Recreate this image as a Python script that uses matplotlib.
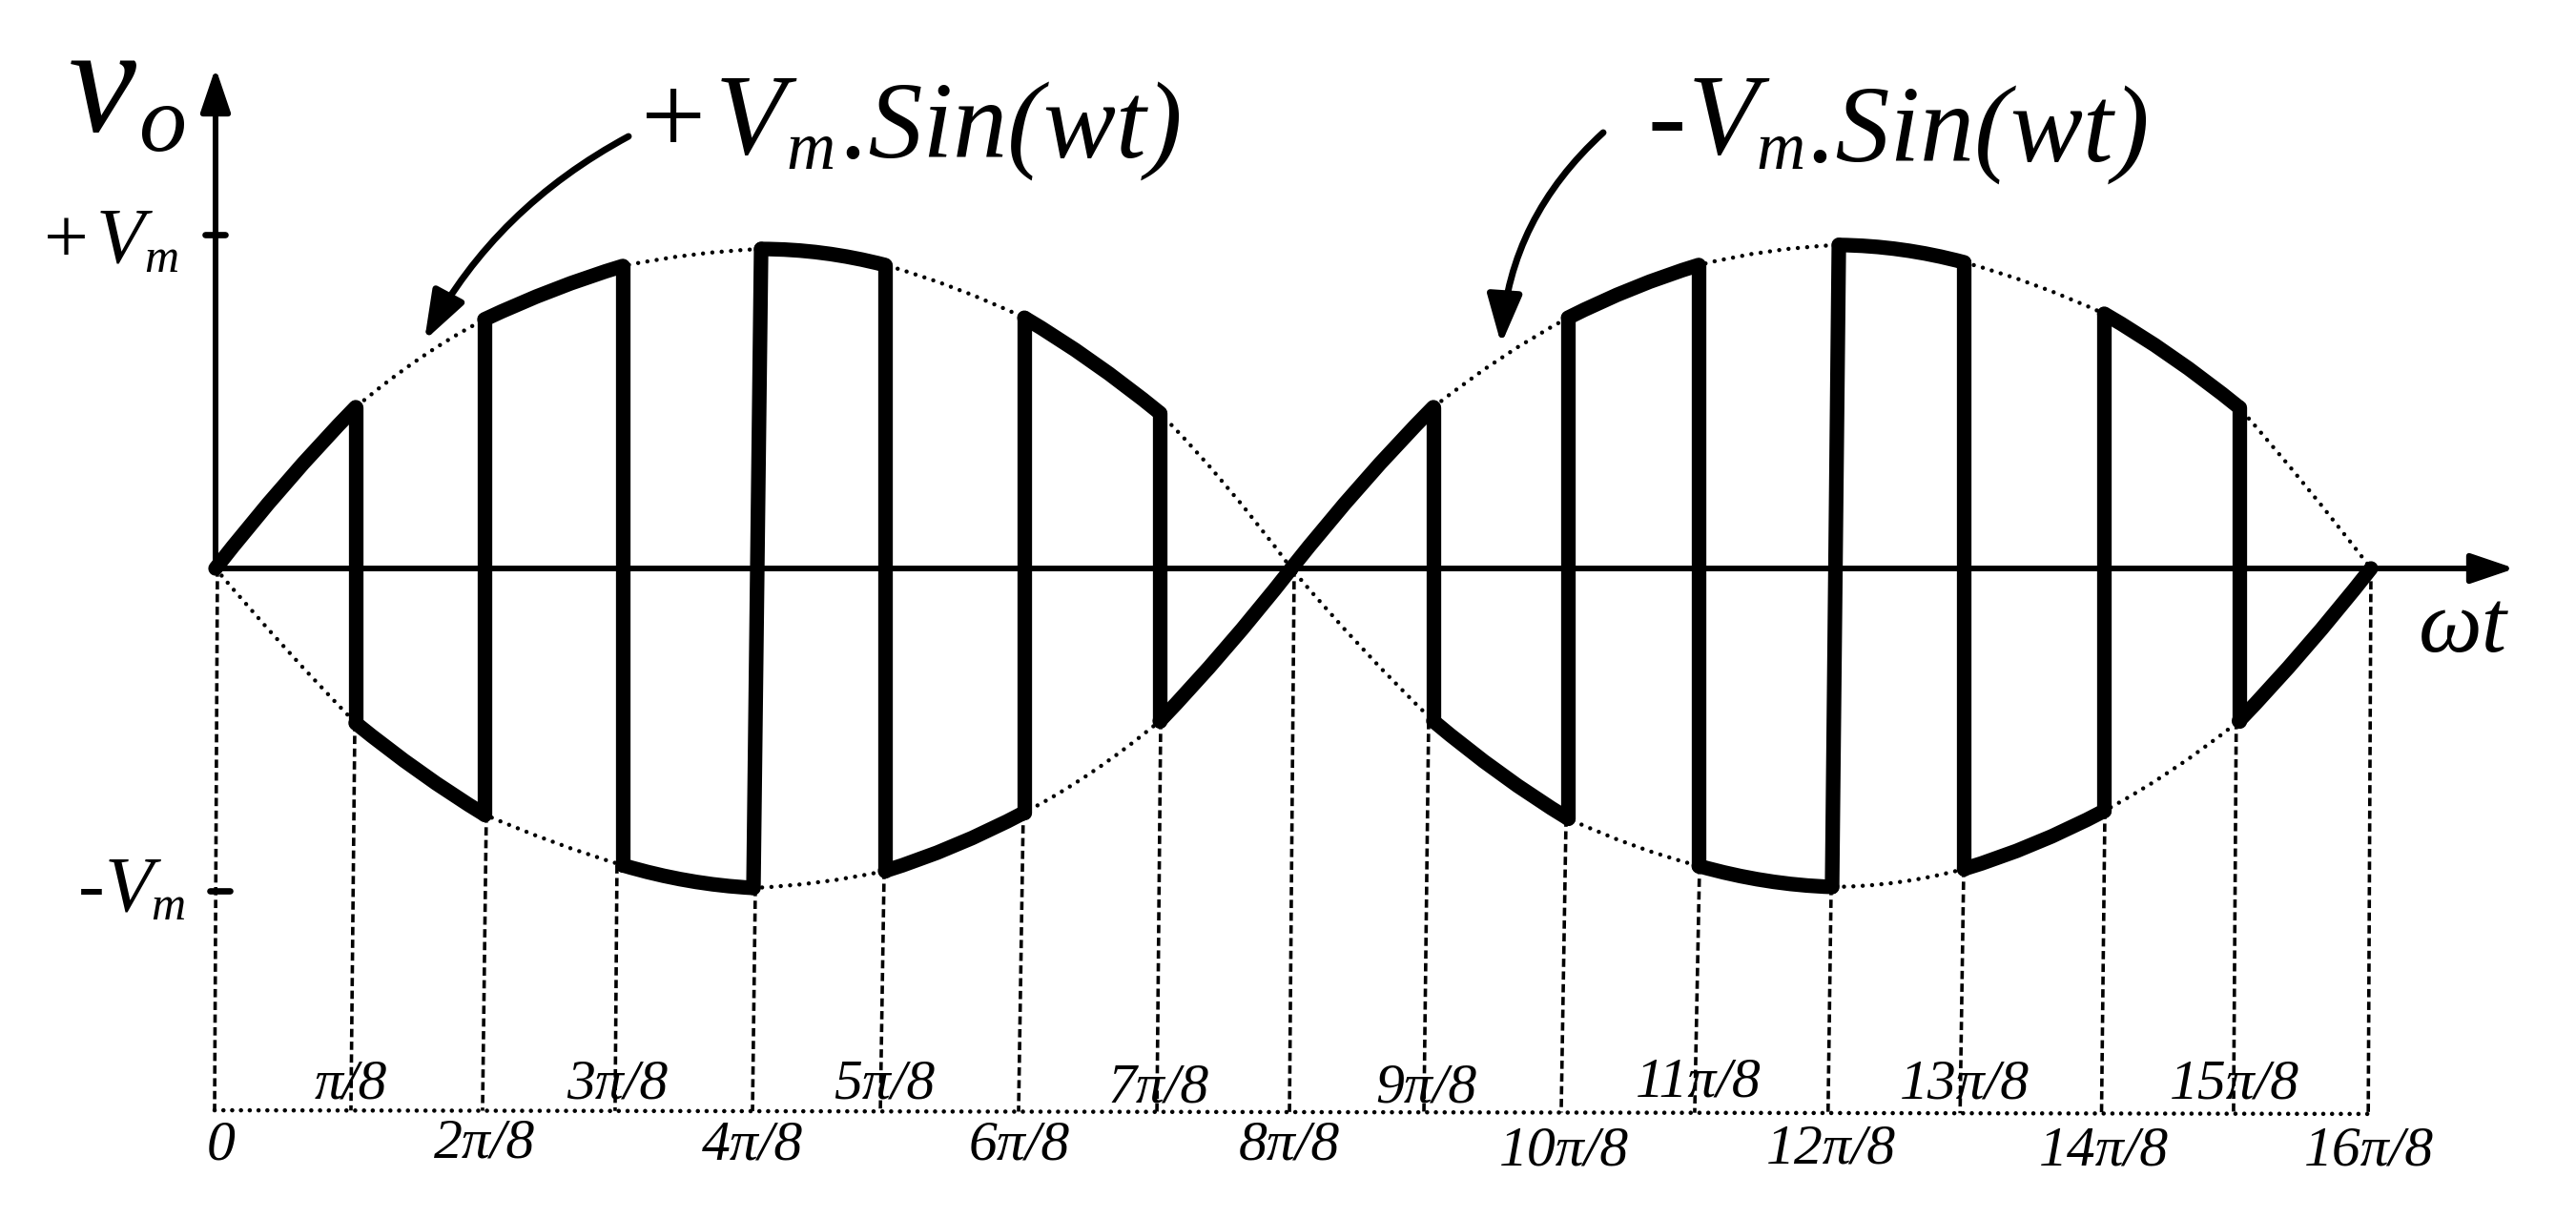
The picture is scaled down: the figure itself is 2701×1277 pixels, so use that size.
import matplotlib
matplotlib.use("Agg")
import matplotlib.pyplot as plt
from matplotlib.path import Path
from matplotlib.patches import PathPatch, FancyArrowPatch

W, H = 2701, 1277
SERIF = "Liberation Serif"

# x is in units of pi/8, y in units of Vm
upper_x = [0.0, 1.04, 1.996, 3.023, 4.05, 4.97, 6.004, 7.009, 7.986, 9.04, 10.04, 11.01, 12.05, 12.98, 14.02, 15.02, 16.0]
lower_x = [0.0, 1.04, 1.996, 3.023, 3.993, 4.97, 6.004, 7.009, 7.986, 9.04, 10.04, 11.01, 12.0, 12.98, 14.02, 15.02, 16.0]
upper_y = [0.0, 0.483, 0.746, 0.906, 0.957, 0.909, 0.751, 0.466, 0.0, 0.483, 0.751, 0.909, 0.969, 0.917, 0.763, 0.483, 0.0]
lower_y = [0.0, -0.463, -0.737, -0.889, -0.957, -0.906, -0.731, -0.457, 0.0, -0.457, -0.749, -0.891, -0.954, -0.9, -0.726, -0.457, 0.0]
upper_mid = [0.255, 0.63, 0.835, 0.94, 0.945, 0.84, 0.62, 0.25, 0.255, 0.63, 0.84, 0.95, 0.955, 0.85, 0.635, 0.25]
lower_mid = [-0.24, -0.61, -0.82, -0.935, -0.94, -0.83, -0.61, -0.24, -0.24, -0.615, -0.83, -0.935, -0.94, -0.825, -0.605, -0.24]
guide_top_x = [0.014, 1.034, 2.01, 2.98, 4.007, 4.963, 5.996, 7.016, 8.007, 9.005, 10.025, 11.016, 11.993, 12.977, 14.025, 15.0, 16.0]
guide_bottom_x = [-0.007, 1.005, 1.982, 2.966, 3.986, 4.935, 5.961, 6.988, 7.972, 8.97, 9.989, 10.98, 11.97, 12.95, 14.0, 14.98, 15.98]
baseline_x = [-0.007, 15.98]
baseline_y = [-1.623, -1.634]
y_tick_values = [1.0, -0.966]

lower_row_labels = ["0", "2π/8", "4π/8", "6π/8", "8π/8", "10π/8", "12π/8", "14π/8", "16π/8"]
upper_row_labels = ["π/8", "3π/8", "5π/8", "7π/8", "9π/8", "11π/8", "13π/8", "15π/8"]
lower_row_cx = [232, 508, 789, 1069, 1352, 1640, 1920, 2206, 2484]
lower_row_base = [1215, 1213, 1215, 1216, 1215, 1222, 1220, 1222, 1222]
upper_row_cx = [368, 647, 927, 1215, 1495, 1781, 2060, 2343]
upper_row_base = [1152, 1151, 1152, 1156, 1155, 1149, 1151, 1151]

fig = plt.figure(figsize=(W / 100, H / 100), dpi=100, facecolor="white")
ax = fig.add_axes([0, 0, 1, 1])
ax.set_xlim(-226 / 141.25, (W - 226) / 141.25)
ax.set_ylim(-(H - 596) / 350, 596 / 350)
ax.axis("off")


def arc(xs, ys, mids, i):
    """Quadratic piece through breakpoints i, i+1 and the value read between them."""
    x0, x1 = xs[i], xs[i + 1]
    y0, y1 = ys[i], ys[i + 1]
    return (x0, y0), ((x0 + x1) / 2, 2 * mids[i] - (y0 + y1) / 2), (x1, y1)


def draw_arcs(xs, ys, mids, idx, **kw):
    verts, codes = [], []
    for i in idx:
        a, c, b = arc(xs, ys, mids, i)
        verts += [a, c, b]
        codes += [Path.MOVETO, Path.CURVE3, Path.CURVE3]
    ax.add_patch(PathPatch(Path(verts, codes), fill=False, edgecolor="black", **kw))


n = len(upper_x)
DOT = dict(lw=3.2, linestyle=(0, (0.01, 2.2)), capstyle="round")
THICK = dict(lw=11, capstyle="round", joinstyle="round")
# dotted envelopes: whole-curve paths so that the dots run continuously
for xs, ys, mids in ((upper_x, upper_y, upper_mid), (lower_x, lower_y, lower_mid)):
    verts = [(xs[0], ys[0])]
    codes = [Path.MOVETO]
    for i in range(n - 1):
        a, c, b = arc(xs, ys, mids, i)
        verts += [c, b]
        codes += [Path.CURVE3, Path.CURVE3]
    ax.add_patch(PathPatch(Path(verts, codes), fill=False, edgecolor="black", **DOT))

# dashed guides down to the baseline
for i in range(n):
    ax.plot([guide_top_x[i], guide_bottom_x[i]],
            [lower_y[i], baseline_y[0] + (baseline_y[1] - baseline_y[0]) * i / (n - 1)],
            color="black", lw=2.6, linestyle=(0, (2.4, 1.3)), dash_capstyle="butt")
ax.plot(baseline_x, baseline_y, color="black", lw=3.3, linestyle=(0, (0.01, 2.0)), dash_capstyle="round")

# switching waveform
draw_arcs(upper_x, upper_y, upper_mid, range(0, n - 1, 2), **THICK)
draw_arcs(lower_x, lower_y, lower_mid, range(1, n - 1, 2), **THICK)
for i in range(1, n - 1):
    if i != 8:
        ax.plot([upper_x[i], lower_x[i]], [upper_y[i], lower_y[i]], color="black", lw=11,
                solid_capstyle="round")

# axes with arrow heads
HEAD = "-|>,head_length=28,head_width=9.5"
ax.add_patch(FancyArrowPatch((0, 0), (0, 525 / 350), arrowstyle=HEAD, mutation_scale=1, lw=4.3,
                             color="black", shrinkA=0, shrinkB=0, zorder=5))
ax.add_patch(FancyArrowPatch((0, 0), (2411 / 141.25, 0), arrowstyle=HEAD, mutation_scale=1, lw=4.3,
                             color="black", shrinkA=0, shrinkB=0, zorder=5))
ax.plot([-11 / 141.25, 10 / 141.25], [y_tick_values[0]] * 2, color="black", lw=4.8, solid_capstyle="round")
ax.plot([-6 / 141.25, 15 / 141.25], [y_tick_values[1]] * 2, color="black", lw=4.8, solid_capstyle="round")

# curved callout arrows (display coordinates: y measured from the bottom)
CALL = "-|>,head_length=31,head_width=11"
for (x0, y0), (x1, y1), rad in (((659, 143), (445, 357), 0.15), ((1681, 139), (1574, 361), 0.2)):
    fig.add_artist(FancyArrowPatch((x0 / W, 1 - y0 / H), (x1 / W, 1 - y1 / H), transform=fig.transFigure,
                                   connectionstyle=f"arc3,rad={rad}", arrowstyle=CALL, mutation_scale=1,
                                   lw=5, color="black", shrinkA=0, shrinkB=0))


def label(px, py, s, size, ha="left"):
    fig.text(px / W, 1 - py / H, s, fontsize=size, ha=ha, va="baseline",
             family=SERIF, style="italic", color="black")


def label_upright(px, py, s, size):
    fig.text(px / W, 1 - py / H, s, fontsize=size, ha="left", va="baseline", family=SERIF, color="black")


# big annotations
label_upright(672, 161, "+", 87)
label(750, 161, "V", 87)
label(824, 177, "m", 51)
label(882, 165, ".Sin(wt)", 82)
label_upright(1728, 161, "-", 87)
label(1770, 161, "V", 87)
label(1841, 177, "m", 51)
label(1896, 169, ".Sin(wt)", 82)

# axis names
label(72, 137, "v", 115)
label(145, 158, "o", 72)
label(2536, 683, "ωt", 68)

# Vm tick labels
label_upright(46, 275, "+", 60)
label(101, 275, "V", 60)
label(151, 285, "m", 36)
label_upright(82, 954, "-", 60)
label(110, 954, "V", 60)
label(158, 964, "m", 36)

# pi/8 tick labels
for s, cx, b in zip(lower_row_labels, lower_row_cx, lower_row_base):
    label(cx, b, s, 43, ha="center")
for s, cx, b in zip(upper_row_labels, upper_row_cx, upper_row_base):
    label(cx, b, s, 43, ha="center")

fig.savefig("out.png", dpi=100, facecolor="white")
